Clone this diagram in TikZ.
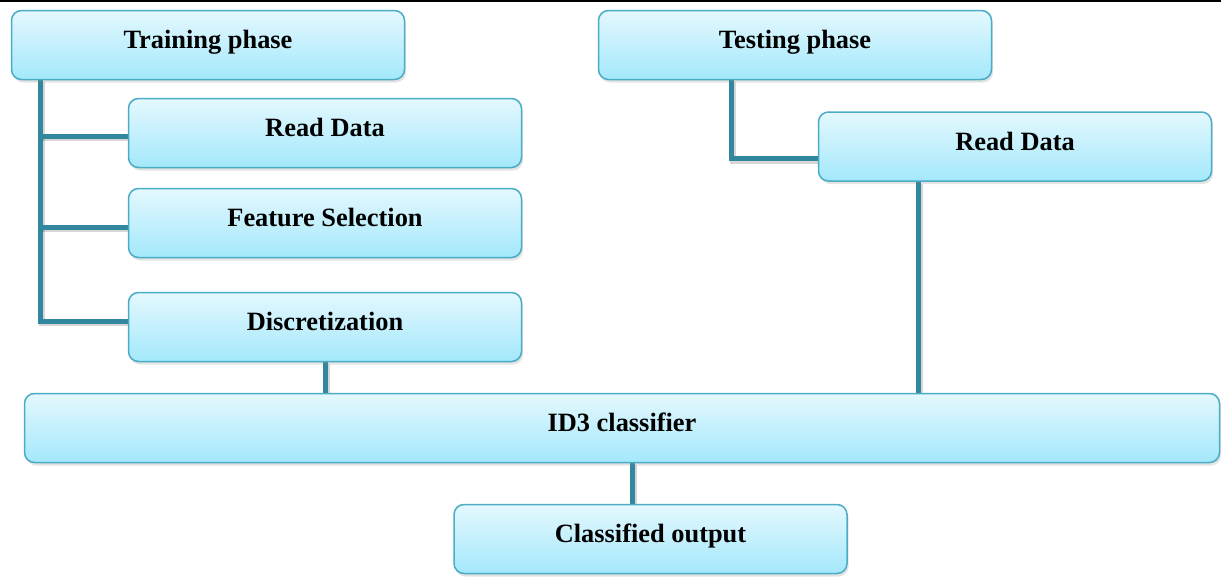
\documentclass[tikz,border=0pt]{standalone}
\usepackage{fontspec}
\setmainfont{Liberation Serif}
\usetikzlibrary{shadows}
\definecolor{bordc}{HTML}{4BACC6}
\definecolor{topc}{HTML}{E4F8FE}
\definecolor{botc}{HTML}{A3E8FB}
\definecolor{connc}{HTML}{31879E}
\pgfdeclarelayer{bg}
\pgfsetlayers{bg,main}
\tikzset{
  box/.style={draw=bordc, line width=1.5pt, rounded corners=10pt,
    top color=topc, bottom color=botc,
    drop shadow={opacity=0.22, shadow xshift=1.5pt, shadow yshift=-3pt},
    minimum width=393pt, minimum height=69pt, inner sep=0pt,
    font=\fontsize{26.4}{30}\selectfont\bfseries,
    text height=18pt, text depth=11pt, anchor=center},
  conn/.style={draw=connc, line width=5pt,
    preaction={draw=black, draw opacity=0.16, line width=6pt,
      transform canvas={xshift=1.5pt, yshift=-2pt}}},
}
\begin{document}
\begin{tikzpicture}[x=1pt, y=-1pt]
\useasboundingbox (0,0) rectangle (1221,576);
\draw[black, line width=2.5pt] (0,1.2) coordinate (l0) -- (1221,1.2) coordinate (l1);

\node[box] (tr)  at (208,45) {Training phase};
\node[box] (te)  at (795,45) {Testing phase};
\node[box] (rd1) at (325,133) {Read Data};
\node[box] (fs)  at (325,223) {Feature Selection};
\node[box] (di)  at (325,327) {Discretization};
\node[box] (rd2) at (1015,146.5) {Read Data};
\node[box, minimum width=1195pt] (id3) at (622,428) {ID3 classifier};
\node[box] (co)  at (650.5,539) {Classified output};

\coordinate (t0) at (40,0);
\coordinate (t1) at (731,0);
\coordinate (t2) at (918,0);
\coordinate (t3) at (632,0);

\begin{pgfonlayer}{bg}
\draw[conn] (tr.south -| t0) |- ([yshift=6pt]di.west);
\draw[conn] (t0 |- rd1.west) ++(0,3) -- ([yshift=-3pt]rd1.west);
\draw[conn] (t0 |- fs.west) ++(0,4) -- ([yshift=-4pt]fs.west);
\draw[conn] (te.south -| t1) |- ([yshift=-12pt]rd2.west);
\draw[conn] (rd2.south -| t2) -- (id3.north -| t2);
\draw[conn] (di.south) -- (di.south |- id3.north);
\draw[conn] (id3.south -| t3) -- (co.north -| t3);
\end{pgfonlayer}
\end{tikzpicture}
\end{document}
